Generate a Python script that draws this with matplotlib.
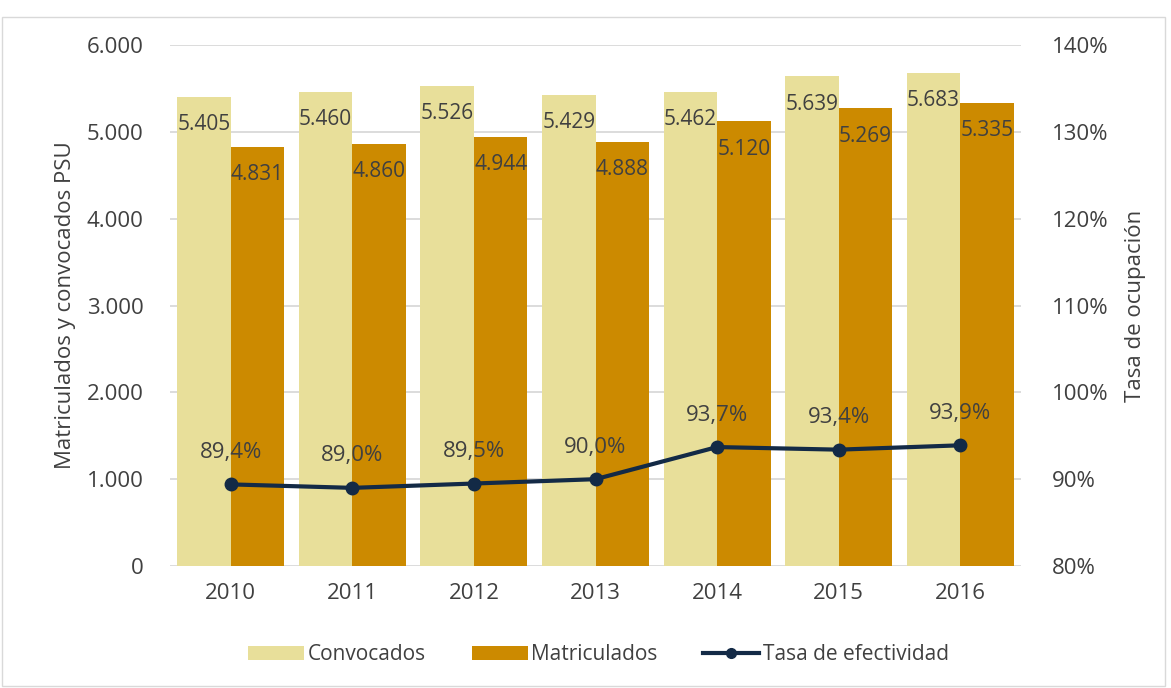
import matplotlib
matplotlib.use("Agg")
import matplotlib.pyplot as plt
import numpy as np
from matplotlib.lines import Line2D
from matplotlib.patches import Patch, Rectangle

plt.rcParams['font.family'] = ['Open Sans', 'DejaVu Sans']

years = ['2010', '2011', '2012', '2013', '2014', '2015', '2016']
convocados = [5405, 5460, 5526, 5429, 5462, 5639, 5683]
matriculados = [4831, 4860, 4944, 4888, 5120, 5269, 5335]
tasa = [89.4, 89.0, 89.5, 90.0, 93.7, 93.4, 93.9]

c_conv = '#E8DF9A'
c_mat = '#CC8A00'
c_line = '#132A46'
c_text = '#404040'
c_grid = '#D9D9D9'

def fmt_thousands(v):
    return f"{int(v):,}".replace(",", ".")

fig = plt.figure(figsize=(11.71, 6.88), dpi=100)
ax = fig.add_axes([0.1452, 0.1773, 0.7267, 0.7573])
ax2 = ax.twinx()

x = np.arange(len(years))
w = 0.44
ax.bar(x - w/2, convocados, w, color=c_conv, zorder=2, label='Convocados')
ax.bar(x + w/2, matriculados, w, color=c_mat, zorder=2, label='Matriculados')

for xi, v in zip(x, convocados):
    ax.annotate(fmt_thousands(v), (xi - w/2, v), xytext=(0, -20), textcoords='offset points',
                ha='center', va='center', fontsize=15, color=c_text, zorder=3)
for xi, v in zip(x, matriculados):
    ax.annotate(fmt_thousands(v), (xi + w/2, v), xytext=(0, -20), textcoords='offset points',
                ha='center', va='center', fontsize=15, color=c_text, zorder=3)

ax.set_ylim(0, 6000)
ax.set_xlim(-0.5, len(years) - 0.5)
ax.set_yticks(np.arange(0, 6001, 1000))
ax.set_yticklabels([fmt_thousands(v) for v in np.arange(0, 6001, 1000)])
ax.set_xticks(x)
ax.set_xticklabels(years)
ax.grid(axis='y', color=c_grid, linewidth=1.3, zorder=0)
ax.set_axisbelow(True)
for s in ax.spines.values():
    s.set_visible(False)
for s in ax2.spines.values():
    s.set_visible(False)
ax.tick_params(axis='both', length=0, labelsize=16, labelcolor=c_text)
ax.tick_params(axis='x', pad=12)
ax.tick_params(axis='y', pad=19)
ax.set_ylabel('Matriculados y convocados PSU', fontsize=16, color=c_text, labelpad=8)

ax2.plot(x, tasa, color=c_line, linewidth=3, marker='o', markersize=9, zorder=4)
for xi, v in zip(x, tasa):
    ax2.annotate(f"{v:.1f}%".replace(".", ","), (xi, v), xytext=(0, 23), textcoords='offset points',
                 ha='center', va='center', fontsize=16, color=c_text)
ax2.set_ylim(80, 140)
ax2.set_yticks(np.arange(80, 141, 10))
ax2.set_yticklabels([f"{int(v)}%" for v in np.arange(80, 141, 10)])
ax2.tick_params(axis='y', length=0, labelsize=16, labelcolor=c_text, pad=22)
ax2.set_ylabel('Tasa de ocupación', fontsize=16, color=c_text, labelpad=12)

handles = [Patch(facecolor=c_conv, label='Convocados'),
           Patch(facecolor=c_mat, label='Matriculados'),
           Line2D([0], [0], color=c_line, linewidth=3, marker='o', markersize=7, label='Tasa de efectividad')]
leg = fig.legend(handles=handles, loc='center', bbox_to_anchor=(0.511, 0.048), ncol=3, frameon=False,
                 fontsize=15, handlelength=2.7, handleheight=0.7, columnspacing=2.2, handletextpad=0.15,
                 labelcolor=c_text)

fig.patches.append(Rectangle((0.002, 0.003), 0.993, 0.972, transform=fig.transFigure,
                             fill=False, edgecolor='#D9D9D9', linewidth=1))

fig.savefig('out.png', dpi=100)
